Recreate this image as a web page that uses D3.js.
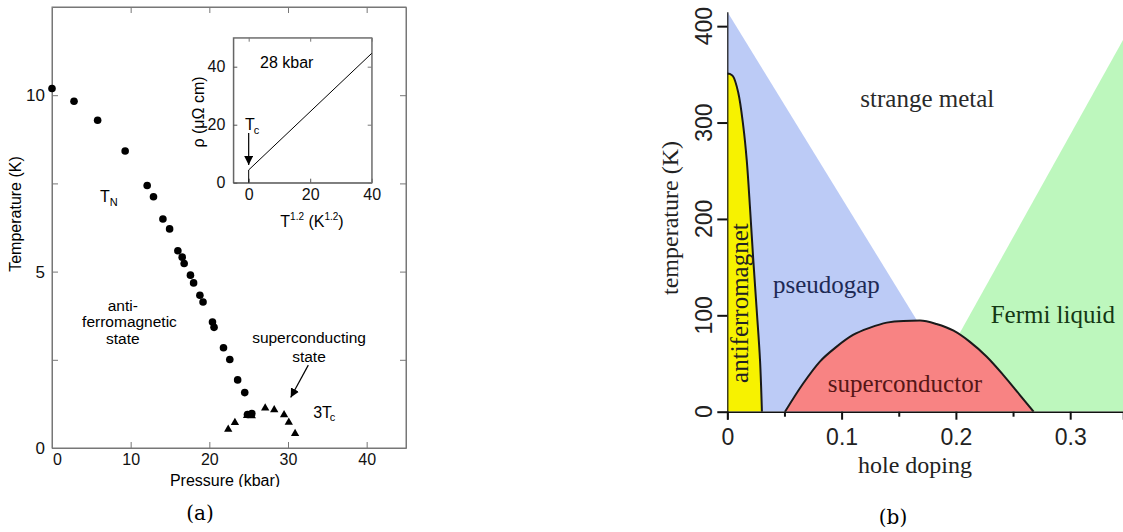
<!DOCTYPE html>
<html lang="en">
<head>
<meta charset="utf-8">
<title>Phase diagrams</title>
<script src="https://cdn.jsdelivr.net/npm/d3@7"></script>
<style>
 body { margin: 0; background: #fff; }
 svg { display: block; background: #fff; }
 .sans { font-family: "Liberation Sans", Arial, sans-serif; }
 .serif { font-family: "Liberation Serif", "Times New Roman", serif; }
</style>
</head>
<body>
<div id="graph"></div>
<script>

 //Panel (a): Neel temperature vs pressure
 const tnPressure = [0, 2.8, 5.8, 9.3, 12.1, 12.9, 14.1, 14.95, 16.0, 16.55, 16.8, 17.6, 18.0, 18.8, 19.2, 20.4, 20.6, 21.8, 22.6, 23.6, 24.5, 24.85, 25.4];
 const tnTemp     = [10.19, 9.83, 9.29, 8.42, 7.44, 7.12, 6.49, 6.21, 5.59, 5.41, 5.23, 4.90, 4.68, 4.33, 4.14, 3.57, 3.42, 2.84, 2.51, 1.93, 1.57, 0.95, 0.98];

 //Panel (a): 3*Tc vs pressure
 const tcPressure = [22.4, 23.25, 24.8, 25.4, 27.1, 28.25, 29.5, 30.1, 30.9];
 const tcTemp     = [0.53, 0.72, 0.92, 0.91, 1.13, 1.08, 0.94, 0.73, 0.41];

 //Inset: resistivity vs T^1.2 at 28 kbar
 const insetX   = [0, 0, 40];
 const insetRho = [0, 4.4, 44.6];

 //Panel (a) ticks
 const aTicksX = [0, 10, 20, 30, 40];
 const aTicksY = [0, 2.5, 5, 7.5, 10];
 const aLabelsY = [0, 5, 10];
 const insetTicks = [0, 20, 40];

 //Panel (b): antiferromagnet boundary
 const afDoping = [0, 0.002, 0.005, 0.0096, 0.014, 0.017, 0.020, 0.0227, 0.0257, 0.0286, 0.0303];
 const afTemp   = [351, 350.5, 348, 331, 296, 261, 209, 158, 106, 54, 0];

 //Panel (b): superconducting dome
 const scDoping = [0.0505, 0.0665, 0.081, 0.0957, 0.110, 0.125, 0.1395, 0.154, 0.1686, 0.183, 0.198, 0.212, 0.227, 0.2415, 0.256, 0.268];
 const scTemp   = [0, 29.5, 52, 67.5, 79.6, 87.2, 92.4, 94.2, 94.5, 91, 84, 72.7, 57, 38, 17.3, 0];

 //Panel (b): pseudogap and Fermi liquid crossover lines
 const pgDoping = [0, 0.215];
 const pgTemp   = [415, 0];
 const flDoping = [0.165, 0.36];
 const flTemp   = [0, 415];

 //Panel (b) ticks
 const bTicksX = [0, 0.1, 0.2, 0.3];
 const bMinorX = [0.05, 0.15, 0.25];
 const bTicksY = [0, 100, 200, 300, 400];

 const W = 1123, H = 532;
 const svg = d3.select("#graph").append("svg")
	       .attr("width", W)
	       .attr("height", H);

 const defs = svg.append("defs");
 defs.append("marker")
     .attr("id", "head")
     .attr("viewBox", "0 0 10 10")
     .attr("refX", 10).attr("refY", 5)
     .attr("markerWidth", 9).attr("markerHeight", 9)
     .attr("markerUnits", "userSpaceOnUse")
     .attr("orient", "auto")
     .append("path")
     .attr("d", "M0,0L10,5L0,10z")
     .attr("fill", "#000");

 //======== Panel (a) ========
 const xa = d3.scaleLinear().domain([0, 45]).range([52, 406]);
 const ya = d3.scaleLinear().domain([0, 12.5]).range([448, 7]);
 const gA = svg.append("g").attr("class", "sans");

 function styleAxis(g, color) {
     g.select(".domain").attr("stroke", color);
     g.selectAll(".tick line").attr("stroke", color);
     g.selectAll(".tick text").attr("fill", "#111").style("font-family", "Liberation Sans, Arial, sans-serif");
 }

 //Frame
 gA.append("rect")
   .attr("x", xa(0)).attr("y", ya(12.5))
   .attr("width", xa(45) - xa(0)).attr("height", ya(0) - ya(12.5))
   .attr("fill", "none").attr("stroke", "#777");

 gA.append("g")
   .attr("transform", "translate(0," + ya(0) + ")")
   .call(d3.axisBottom(xa).tickValues(aTicksX).tickSizeInner(-6).tickSizeOuter(0).tickPadding(6))
   .call(g => styleAxis(g, "#777"))
   .call(g => g.selectAll(".tick text").style("font-size", "16px")
	      .attr("dx", d => d === 0 ? 5 : 0));
 gA.append("g")
   .attr("transform", "translate(0," + ya(12.5) + ")")
   .call(d3.axisTop(xa).tickValues(aTicksX.slice(1)).tickSizeInner(-6).tickSizeOuter(0).tickFormat(""))
   .call(g => styleAxis(g, "#777"));
 gA.append("g")
   .attr("transform", "translate(" + xa(0) + ",0)")
   .call(d3.axisLeft(ya).tickValues(aTicksY).tickSizeInner(-6).tickSizeOuter(0).tickPadding(7)
	 .tickFormat(d => aLabelsY.includes(d) ? d : ""))
   .call(g => styleAxis(g, "#777"))
   .call(g => g.selectAll(".tick text").style("font-size", "17px"));
 gA.append("g")
   .attr("transform", "translate(" + xa(45) + ",0)")
   .call(d3.axisRight(ya).tickValues(aTicksY).tickSizeInner(-6).tickSizeOuter(0).tickFormat(""))
   .call(g => styleAxis(g, "#777"));

 //Axis titles (x title is cut at the bottom in the original)
 defs.append("clipPath").attr("id", "clipA")
     .append("rect").attr("x", 0).attr("y", 0).attr("width", 420).attr("height", 487);
 gA.append("text")
   .attr("x", (xa(0) + xa(45)) / 2 - 4).attr("y", 486)
   .attr("clip-path", "url(#clipA)")
   .attr("text-anchor", "middle").style("font-size", "16px")
   .text("Pressure (kbar)");
 gA.append("text")
   .attr("transform", "translate(21,214) rotate(-90)")
   .attr("text-anchor", "middle").style("font-size", "16px")
   .text("Temperature (K)");

 //Points
 gA.append("g").selectAll("circle")
   .data(tnPressure)
   .enter().append("circle")
   .attr("cx", d => xa(d))
   .attr("cy", (d, i) => ya(tnTemp[i]))
   .attr("r", 3.8)
   .attr("fill", "#000");
 gA.append("g").selectAll("path")
   .data(tcPressure)
   .enter().append("path")
   .attr("d", d3.symbol(d3.symbolTriangle, 30))
   .attr("transform", (d, i) => "translate(" + xa(d) + "," + ya(tcTemp[i]) + ")")
   .attr("fill", "#000");

 //Annotations
 const tn = gA.append("text").attr("x", xa(6.1)).attr("y", ya(6.97)).style("font-size", "16px");
 tn.append("tspan").text("T");
 tn.append("tspan").attr("dy", 4).style("font-size", "11px").text("N");
 [["anti-", 9.0, 3.88], ["ferromagnetic", 9.85, 3.43], ["state", 9.0, 2.96],
  ["superconducting", 32.67, 2.98], ["state", 32.67, 2.44]].forEach(t => {
      gA.append("text").attr("x", xa(t[1])).attr("y", ya(t[2]))
	.attr("text-anchor", "middle").style("font-size", "15.5px").text(t[0]);
  });
 const tc3 = gA.append("text").attr("x", xa(33.2)).attr("y", ya(0.85)).style("font-size", "16px");
 tc3.append("tspan").text("3T");
 tc3.append("tspan").attr("dy", 3).attr("dx", -2).style("font-size", "11px").text("c");
 gA.append("line")
   .attr("x1", xa(32.58)).attr("y1", ya(2.35))
   .attr("x2", xa(30.34)).attr("y2", ya(1.43))
   .attr("stroke", "#000").attr("stroke-width", 1.2)
   .attr("marker-end", "url(#head)");

 //Inset
 const xi = d3.scaleLinear().domain([-5, 40]).range([233.3, 371.7]);
 const yi = d3.scaleLinear().domain([0, 50]).range([182.7, 37.7]);
 const gI = gA.append("g");
 gI.append("rect")
   .attr("x", xi(-5)).attr("y", yi(50))
   .attr("width", xi(40) - xi(-5)).attr("height", yi(0) - yi(50))
   .attr("fill", "#fff").attr("stroke", "#777");
 gI.append("g")
   .attr("transform", "translate(0," + yi(0) + ")")
   .call(d3.axisBottom(xi).tickValues(insetTicks).tickSizeInner(-4).tickSizeOuter(0).tickPadding(6))
   .call(g => styleAxis(g, "#555"))
   .call(g => g.selectAll(".tick text").style("font-size", "16px"));
 gI.append("g")
   .attr("transform", "translate(0," + yi(50) + ")")
   .call(d3.axisTop(xi).tickValues(insetTicks).tickSizeInner(-4).tickSizeOuter(0).tickFormat(""))
   .call(g => styleAxis(g, "#777"));
 gI.append("g")
   .attr("transform", "translate(" + xi(-5) + ",0)")
   .call(d3.axisLeft(yi).tickValues(insetTicks).tickSizeInner(-4).tickSizeOuter(0).tickPadding(8))
   .call(g => styleAxis(g, "#555"))
   .call(g => g.selectAll(".tick text").style("font-size", "16px"));
 gI.append("g")
   .attr("transform", "translate(" + xi(40) + ",0)")
   .call(d3.axisRight(yi).tickValues(insetTicks).tickSizeInner(-4).tickSizeOuter(0).tickFormat(""))
   .call(g => styleAxis(g, "#777"));

 const insetLine = d3.line()
		     .x(d => xi(d))
		     .y((d, i) => yi(insetRho[i]));
 gI.append("path")
   .attr("d", insetLine(insetX))
   .attr("fill", "none").attr("stroke", "#000").attr("stroke-width", 1);

 gI.append("text").attr("x", xi(3.68)).attr("y", yi(39.6)).style("font-size", "16px").text("28 kbar");
 const tci = gI.append("text").attr("x", xi(-1.2)).attr("y", yi(18.2)).style("font-size", "16px");
 tci.append("tspan").text("T");
 tci.append("tspan").attr("dy", 4).attr("dx", -1).style("font-size", "11px").text("c");
 gI.append("line")
   .attr("x1", xi(0)).attr("y1", yi(17.1))
   .attr("x2", xi(0)).attr("y2", yi(6.1))
   .attr("stroke", "#000").attr("stroke-width", 1.2)
   .attr("marker-end", "url(#head)");

 const ix = gI.append("text").attr("x", 312).attr("y", 227)
	      .attr("text-anchor", "middle").style("font-size", "16px");
 ix.append("tspan").text("T");
 ix.append("tspan").attr("dy", -7).style("font-size", "10px").text("1.2");
 ix.append("tspan").attr("dy", 7).text(" (K");
 ix.append("tspan").attr("dy", -7).style("font-size", "10px").text("1.2");
 ix.append("tspan").attr("dy", 7).text(")");
 gI.append("text")
   .attr("transform", "translate(204,112) rotate(-90)")
   .attr("text-anchor", "middle").style("font-size", "16px")
   .text("ρ (μΩ cm)");

 svg.append("text")
    .attr("x", 200).attr("y", 520)
    .attr("text-anchor", "middle")
    .style("font-family", "DejaVu Serif, serif").style("font-size", "20px")
    .text("(a)");

 //======== Panel (b) ========
 const xb = d3.scaleLinear().domain([0, 0.3462]).range([727.3, 1123]);
 const yb = d3.scaleLinear().domain([0, 415]).range([411.7, 11.7]);
 const gB = svg.append("g");

 defs.append("clipPath").attr("id", "clipB")
     .append("rect")
     .attr("x", xb(0)).attr("y", yb(415))
     .attr("width", xb(0.3462) - xb(0)).attr("height", yb(0) - yb(415));
 const regions = gB.append("g").attr("clip-path", "url(#clipB)");

 const pts = (xs, ys) => xs.map((d, i) => [d, ys[i]]);
 const poly = d3.line().x(d => xb(d[0])).y(d => yb(d[1]));

 //Pseudogap
 regions.append("path")
	.attr("d", poly([[0, 0]].concat(pts(pgDoping, pgTemp))) + "Z")
	.attr("fill", "#bccbf6");
 //Fermi liquid
 regions.append("path")
	.attr("d", poly(pts(flDoping, flTemp).concat([[0.5, 415], [0.5, 0]])) + "Z")
	.attr("fill", "#bdf7bd");
 //Superconductor
 const dome = d3.line().x(d => xb(d[0])).y(d => yb(d[1])).curve(d3.curveMonotoneX);
 regions.append("path")
	.attr("d", dome(pts(scDoping, scTemp)) + "Z")
	.attr("fill", "#f88383");
 regions.append("path")
	.attr("d", dome(pts(scDoping, scTemp)))
	.attr("fill", "none").attr("stroke", "#1a1a1a").attr("stroke-width", 2);
 //Antiferromagnet
 const curve = d3.line().x(d => xb(d[0])).y(d => yb(d[1])).curve(d3.curveCatmullRom);
 regions.append("path")
	.attr("d", curve(pts(afDoping, afTemp)) + "L" + xb(0) + "," + yb(0) + "Z")
	.attr("fill", "#f7f200");
 regions.append("path")
	.attr("d", curve(pts(afDoping, afTemp)))
	.attr("fill", "none").attr("stroke", "#1a1a1a").attr("stroke-width", 2);

 //Axes
 gB.append("g")
   .attr("transform", "translate(0," + yb(0) + ")")
   .call(d3.axisBottom(xb).tickValues(bTicksX).tickSize(8).tickPadding(9)
	 .tickFormat(d => d === 0 ? "0" : d3.format(".1f")(d)))
   .call(g => styleAxis(g, "#111"))
   .call(g => g.select(".domain").attr("stroke-width", 1.5))
   .call(g => g.selectAll(".tick line").attr("stroke-width", 2))
   .call(g => g.selectAll(".tick text").style("font-size", "23px").attr("fill", "#222"));
 gB.append("g")
   .attr("transform", "translate(0," + yb(0) + ")")
   .call(d3.axisBottom(xb).tickValues(bMinorX).tickSize(5).tickFormat(""))
   .call(g => g.select(".domain").remove())
   .call(g => g.selectAll(".tick line").attr("stroke", "#111").attr("stroke-width", 2));
 gB.append("g")
   .attr("transform", "translate(" + xb(0) + ",0)")
   .call(d3.axisLeft(yb).tickValues(bTicksY).tickSize(10).tickSizeOuter(0).tickFormat(""))
   .call(g => styleAxis(g, "#111"))
   .call(g => g.select(".domain").attr("stroke-width", 1.2))
   .call(g => g.selectAll(".tick line").attr("stroke-width", 2));

 //Rotated y tick labels
 gB.append("g").selectAll("text")
   .data(bTicksY)
   .enter().append("text")
   .attr("transform", d => "translate(712," + yb(d) + ") rotate(-90)")
   .attr("text-anchor", "middle")
   .attr("class", "sans")
   .style("font-size", "23px").attr("fill", "#222")
   .text(d => d);

 gB.append("text")
   .attr("x", 915).attr("y", 473)
   .attr("text-anchor", "middle").attr("class", "serif")
   .style("font-size", "24px").attr("fill", "#222")
   .text("hole doping");
 gB.append("text")
   .attr("transform", "translate(678,218) rotate(-90)")
   .attr("text-anchor", "middle").attr("class", "serif")
   .style("font-size", "24px").attr("fill", "#222")
   .text("temperature (K)");

 //Region labels
 [["strange metal", 0.175, 316, "#2a2a2a"],
  ["pseudogap", 0.0867, 123, "#1e2a55"],
  ["Fermi liquid", 0.2848, 92, "#143814"],
  ["superconductor", 0.1554, 20.7, "#561616"]].forEach(t => {
      gB.append("text")
	.attr("x", xb(t[1])).attr("y", yb(t[2]))
	.attr("text-anchor", "middle").attr("class", "serif")
	.style("font-size", "25px").attr("fill", t[3])
	.text(t[0]);
  });
 gB.append("text")
   .attr("transform", "translate(" + xb(0.0181) + "," + yb(112.7) + ") rotate(-90)")
   .attr("text-anchor", "middle").attr("class", "serif")
   .style("font-size", "25px").attr("fill", "#222")
   .text("antiferromagnet");

 svg.append("text")
    .attr("x", 893).attr("y", 524)
    .attr("text-anchor", "middle")
    .style("font-family", "DejaVu Serif, serif").style("font-size", "20px")
    .text("(b)");

</script>
</body>
</html>
